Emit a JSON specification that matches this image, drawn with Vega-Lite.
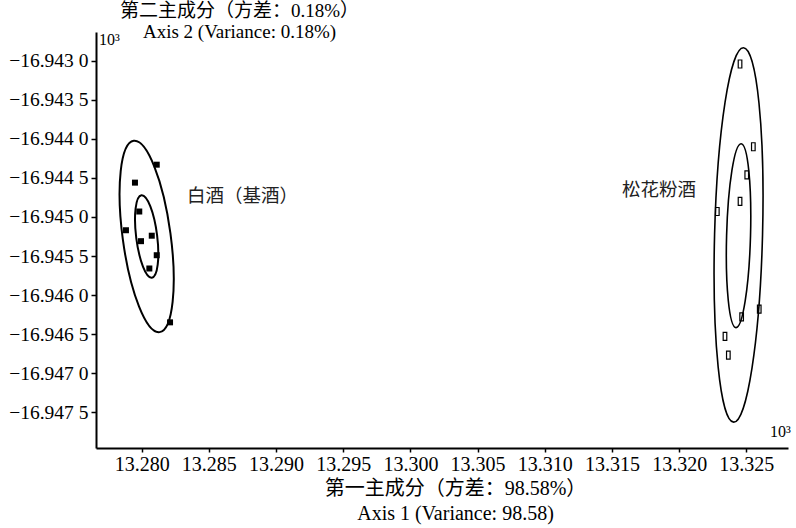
{
  "$schema": "https://vega.github.io/schema/vega-lite/v6.json",
  "width": 692,
  "height": 416,
  "autosize": {"type": "none"},
  "padding": {"left": 96, "top": 32, "right": 8, "bottom": 80},
  "background": "white",
  "config": {
    "view": {"stroke": null},
    "font": "Liberation Serif, Noto Sans CJK SC",
    "axis": {"grid": false, "labelColor": "black", "titleColor": "black", "domainColor": "black", "tickColor": "black", "labelFont": "Liberation Serif", "titleFont": "Liberation Serif, Noto Sans CJK SC", "titleFontWeight": "normal"}
  },
  "datasets": {
    "points": [
      {"group": "白酒（基酒）", "x": 13.28112, "y": -16.94433},
      {"group": "白酒（基酒）", "x": 13.27950, "y": -16.94456},
      {"group": "白酒（基酒）", "x": 13.27982, "y": -16.94493},
      {"group": "白酒（基酒）", "x": 13.27883, "y": -16.94517},
      {"group": "白酒（基酒）", "x": 13.28075, "y": -16.94524},
      {"group": "白酒（基酒）", "x": 13.27995, "y": -16.94531},
      {"group": "白酒（基酒）", "x": 13.28112, "y": -16.94549},
      {"group": "白酒（基酒）", "x": 13.28057, "y": -16.94566},
      {"group": "白酒（基酒）", "x": 13.28211, "y": -16.94635},
      {"group": "松花粉酒", "x": 13.32453, "y": -16.94304},
      {"group": "松花粉酒", "x": 13.32552, "y": -16.94410},
      {"group": "松花粉酒", "x": 13.32503, "y": -16.94446},
      {"group": "松花粉酒", "x": 13.32453, "y": -16.94480},
      {"group": "松花粉酒", "x": 13.32284, "y": -16.94493},
      {"group": "松花粉酒", "x": 13.32465, "y": -16.94628},
      {"group": "松花粉酒", "x": 13.32596, "y": -16.94618},
      {"group": "松花粉酒", "x": 13.32341, "y": -16.94653},
      {"group": "松花粉酒", "x": 13.32366, "y": -16.94677}
    ],
    "ellipses": [
      {"ellipse": "白酒-外", "x": 13.28037, "y": -16.94525},
      {"ellipse": "白酒-内", "x": 13.28037, "y": -16.94525},
      {"ellipse": "松花粉酒-外", "x": 13.32442, "y": -16.94523},
      {"ellipse": "松花粉酒-内", "x": 13.32442, "y": -16.94524}
    ],
    "labels": [
      {"kind": "group", "text": "白酒（基酒）", "x": 13.28337, "y": -16.94473},
      {"kind": "group", "text": "松花粉酒", "x": 13.31575, "y": -16.94465},
      {"kind": "unit", "text": "10³", "x": 13.27682, "y": -16.94273},
      {"kind": "unit", "text": "10³", "x": 13.32676, "y": -16.94776}
    ]
  },
  "encoding": {
    "x": {
      "field": "x", "type": "quantitative",
      "scale": {"domain": [13.2766, 13.3281], "zero": false, "nice": false},
      "axis": {
        "values": [13.28, 13.285, 13.29, 13.295, 13.3, 13.305, 13.31, 13.315, 13.32, 13.325],
        "format": ".3f", "labelFontSize": 20, "labelPadding": 2,
        "domainWidth": 2, "tickSize": 4, "tickWidth": 1.5,
        "title": ["第一主成分（方差：98.58%）", "Axis 1 (Variance: 98.58)"],
        "titleFontSize": 20, "titleX": 359, "titleY": 30, "titleAlign": "center", "titleBaseline": "top", "titleLineHeight": 25
      }
    },
    "y": {
      "field": "y", "type": "quantitative",
      "scale": {"domain": [-16.94796, -16.94263], "zero": false, "nice": false},
      "axis": {
        "values": [-16.943, -16.9435, -16.944, -16.9445, -16.945, -16.9455, -16.946, -16.9465, -16.947, -16.9475],
        "labelExpr": "slice(format(datum.value, '.4f'), 0, -1) + ' ' + slice(format(datum.value, '.4f'), -1)",
        "labelFontSize": 19.5, "labelPadding": 3,
        "domainWidth": 2, "tickSize": 5, "tickWidth": 1.5,
        "title": ["第二主成分（方差：0.18%）", "Axis 2 (Variance: 0.18%)"],
        "titleFontSize": 19, "titleAngle": 0, "titleX": 143, "titleY": -31, "titleAlign": "center", "titleBaseline": "top", "titleLineHeight": 21
      }
    }
  },
  "layer": [
    {
      "data": {"name": "ellipses"},
      "transform": [{"filter": "datum.ellipse === '白酒-外'"}],
      "mark": {"type": "point", "shape": "M0,-1C0.1374,-1 0.2487,-0.5523 0.2487,0C0.2487,0.5523 0.1374,1 0,1C-0.1374,1 -0.2487,0.5523 -0.2487,0C-0.2487,-0.5523 -0.1374,-1 0,-1Z", "size": 37249, "angle": -7.7, "filled": false, "stroke": "black", "strokeWidth": 2, "opacity": 1}
    },
    {
      "data": {"name": "ellipses"},
      "transform": [{"filter": "datum.ellipse === '白酒-内'"}],
      "mark": {"type": "point", "shape": "M0,-1C0.1397,-1 0.253,-0.5523 0.253,0C0.253,0.5523 0.1397,1 0,1C-0.1397,1 -0.253,0.5523 -0.253,0C-0.253,-0.5523 -0.1397,-1 0,-1Z", "size": 6889, "angle": -7.2, "filled": false, "stroke": "black", "strokeWidth": 2, "opacity": 1}
    },
    {
      "data": {"name": "ellipses"},
      "transform": [{"filter": "datum.ellipse === '松花粉酒-外'"}],
      "mark": {"type": "point", "shape": "M0,-1C0.0707,-1 0.128,-0.5523 0.128,0C0.128,0.5523 0.0707,1 0,1C-0.0707,1 -0.128,0.5523 -0.128,0C-0.128,-0.5523 -0.0707,-1 0,-1Z", "size": 140325, "angle": 1.5, "filled": false, "stroke": "black", "strokeWidth": 1.6, "opacity": 1}
    },
    {
      "data": {"name": "ellipses"},
      "transform": [{"filter": "datum.ellipse === '松花粉酒-内'"}],
      "mark": {"type": "point", "shape": "M0,-1C0.0718,-1 0.13,-0.5523 0.13,0C0.13,0.5523 0.0718,1 0,1C-0.0718,1 -0.13,0.5523 -0.13,0C-0.13,-0.5523 -0.0718,-1 0,-1Z", "size": 33856, "angle": 1.6, "filled": false, "stroke": "black", "strokeWidth": 1.6, "opacity": 1}
    },
    {
      "data": {"name": "points"},
      "transform": [{"filter": "datum.group === '白酒（基酒）'"}],
      "mark": {"type": "point", "shape": "square", "size": 36, "filled": true, "color": "black", "opacity": 1}
    },
    {
      "data": {"name": "points"},
      "transform": [{"filter": "datum.group === '松花粉酒'"}],
      "mark": {"type": "point", "shape": "M-0.45,-1L0.45,-1L0.45,1L-0.45,1Z", "size": 64, "filled": false, "stroke": "black", "strokeWidth": 1.2, "opacity": 1}
    },
    {
      "data": {"name": "labels"},
      "transform": [{"filter": "datum.kind === 'group'"}],
      "mark": {"type": "text", "align": "left", "baseline": "middle", "fontSize": 18.5, "font": "Liberation Serif, Noto Sans CJK SC", "color": "#222"},
      "encoding": {"text": {"field": "text"}}
    },
    {
      "data": {"name": "labels"},
      "transform": [{"filter": "datum.kind === 'unit'"}],
      "mark": {"type": "text", "align": "left", "baseline": "middle", "fontSize": 16, "font": "Liberation Serif", "color": "black"},
      "encoding": {"text": {"field": "text"}}
    }
  ]
}
